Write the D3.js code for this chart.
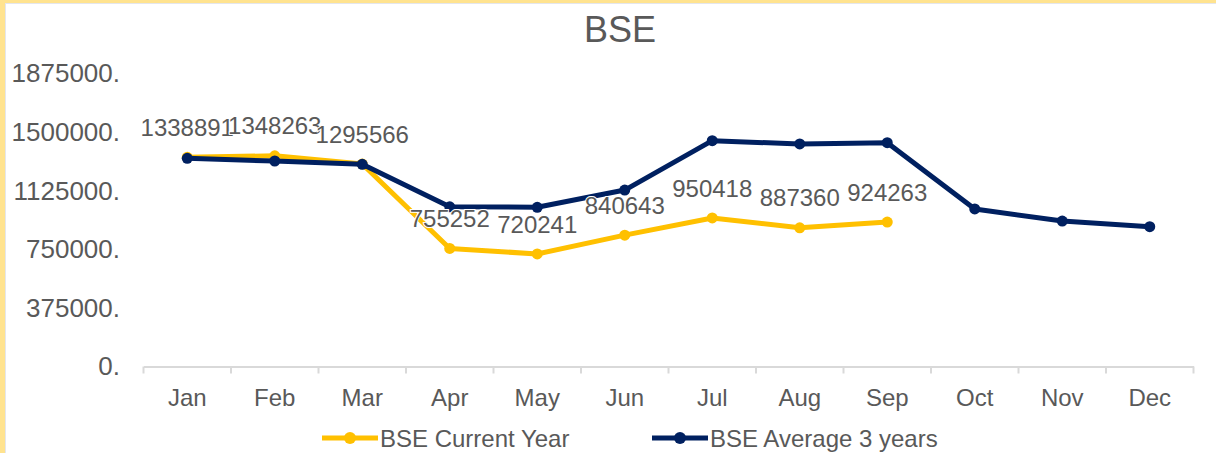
<!DOCTYPE html>
<html>
<head>
<meta charset="utf-8">
<script src="https://cdn.jsdelivr.net/npm/d3@7"></script>
<style>
  body { margin: 0; background: #fff; }
  svg text { font-family: "Liberation Sans", Arial, sans-serif; fill: #595959; }
</style>
</head>
<body>
<svg id="chart" width="1216" height="453"></svg>
<script>
const months = ["Jan", "Feb", "Mar", "Apr", "May", "Jun", "Jul", "Aug", "Sep", "Oct", "Nov", "Dec"];
const currentYear = [1338891, 1348263, 1295566, 755252, 720241, 840643, 950418, 887360, 924263];
const average3Years = [1332000, 1315000, 1294000, 1022000, 1019000, 1129000, 1445000, 1424000, 1432000, 1008000, 931000, 895000];
const yTicks = [0, 375000, 750000, 1125000, 1500000, 1875000];
const seriesNames = ["BSE Current Year", "BSE Average 3 years"];

const yellow = "#FFC000", navy = "#002060";
const svg = d3.select("#chart");

// frame
svg.append("rect").attr("x", 0).attr("y", 0).attr("width", 1216).attr("height", 453).attr("fill", "#fff");
svg.append("rect").attr("x", 0).attr("y", 0).attr("width", 1216).attr("height", 3).attr("fill", "#FFE38F");
svg.append("rect").attr("x", 0).attr("y", 0).attr("width", 5).attr("height", 453).attr("fill", "#FFE38F");
svg.append("line").attr("x1", 5).attr("x2", 1216).attr("y1", 3.5).attr("y2", 3.5).attr("stroke", "#E4E6EC");
svg.append("line").attr("x1", 5.5).attr("x2", 5.5).attr("y1", 3).attr("y2", 453).attr("stroke", "#E4E6EC");

const x = d3.scaleBand().domain(months).range([143.5, 1193.5]).paddingInner(0).paddingOuter(0);
const y = d3.scaleLinear().domain([0, 1875000]).range([366.5, 73.5]);
const cx = m => x(m) + x.bandwidth() / 2;

svg.append("text")
    .attr("x", 620).attr("y", 42)
    .attr("text-anchor", "middle")
    .style("font-size", "36px")
    .text("BSE");

// y axis
const yAxis = svg.append("g")
    .attr("transform", "translate(120,0)")
    .call(d3.axisLeft(y).tickValues(yTicks).tickSize(0).tickPadding(0).tickFormat(d => d + "."));
yAxis.select(".domain").remove();
yAxis.selectAll("text").style("font-size", "26px").attr("fill", "#595959");

// x axis
const xAxis = svg.append("g")
    .attr("transform", "translate(0,366.5)")
    .call(d3.axisBottom(x).tickSize(0).tickPadding(22));
xAxis.select(".domain").attr("stroke", "#D9D9D9").attr("stroke-width", 2);
xAxis.selectAll("text").style("font-size", "24px").attr("fill", "#595959");
xAxis.selectAll(".bound")
    .data(months.map(m => x(m)).concat([x.range()[1]]))
    .enter().append("line")
    .attr("x1", d => d).attr("x2", d => d)
    .attr("y1", 0).attr("y2", 7)
    .attr("stroke", "#D9D9D9").attr("stroke-width", 2);

const line = d3.line().x(d => cx(d.m)).y(d => y(d.v));

function drawSeries(values, color) {
  const pts = values.map((v, i) => ({ m: months[i], v: v }));
  svg.append("path").datum(pts)
      .attr("d", line)
      .attr("fill", "none")
      .attr("stroke", color)
      .attr("stroke-width", 5)
      .attr("stroke-linejoin", "round");
  svg.append("g").selectAll("circle")
      .data(pts).enter().append("circle")
      .attr("cx", d => cx(d.m)).attr("cy", d => y(d.v))
      .attr("r", 5.5).attr("fill", color);
  return pts;
}

const curPts = drawSeries(currentYear, yellow);
drawSeries(average3Years, navy);

svg.append("g").selectAll("text")
    .data(curPts).enter().append("text")
    .attr("x", d => cx(d.m))
    .attr("y", d => y(d.v) - 30)
    .attr("dy", "0.36em")
    .attr("text-anchor", "middle")
    .style("font-size", "24px")
    .style("paint-order", "stroke")
    .attr("stroke", "#fff").attr("stroke-width", 2)
    .text(d => d.v);

// legend
const legend = [
  { name: seriesNames[0], color: yellow, x: 322 },
  { name: seriesNames[1], color: navy, x: 652 }
];
const lg = svg.append("g").selectAll("g").data(legend).enter().append("g")
    .attr("transform", d => `translate(${d.x},438)`);
lg.append("line").attr("x1", 0).attr("x2", 56).attr("y1", 0).attr("y2", 0)
    .attr("stroke", d => d.color).attr("stroke-width", 5);
lg.append("circle").attr("cx", 28).attr("cy", 0).attr("r", 6).attr("fill", d => d.color);
lg.append("text").attr("x", 58).attr("y", 0).attr("dy", "0.36em")
    .style("font-size", "24px")
    .text(d => d.name);
</script>
</body>
</html>
